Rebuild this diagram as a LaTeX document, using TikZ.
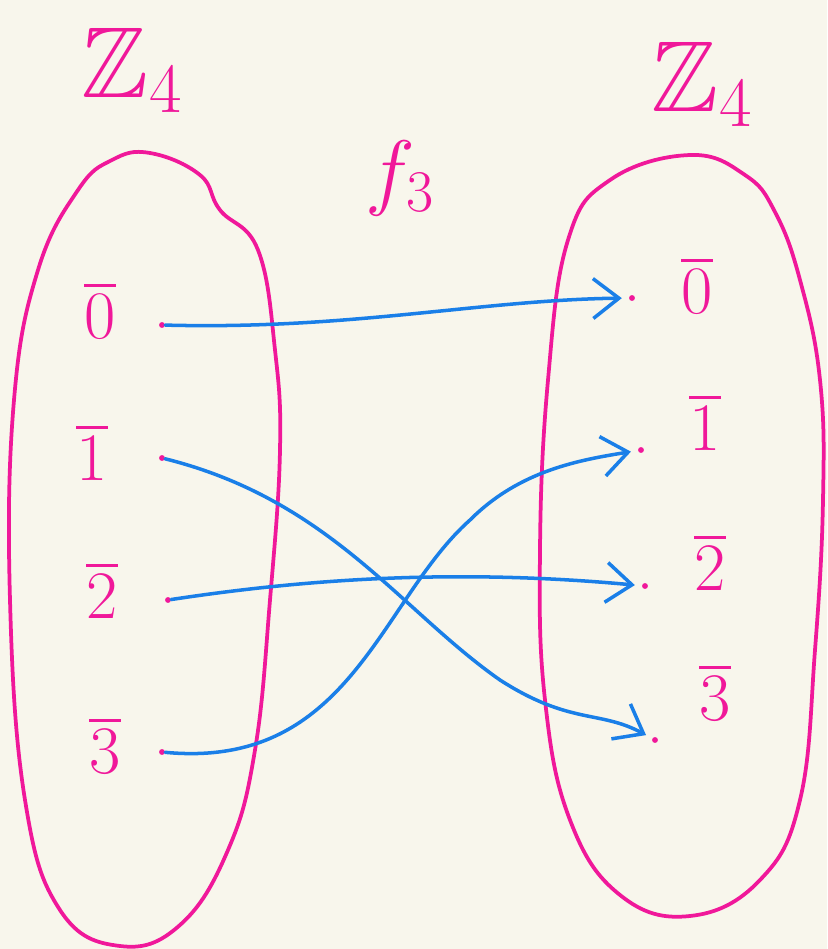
\RequirePackage{fix-cm}
\documentclass[tikz,border=0pt]{standalone}
\usepackage{amssymb}
\usetikzlibrary{arrows.meta}
\definecolor{bgc}{HTML}{F8F6EC}
\definecolor{pinkc}{HTML}{F0189A}
\definecolor{bluec}{HTML}{1A7FE8}
\tikzset{
  oval/.style={draw=pinkc, line width=3.2pt, line join=round},
  lab/.style={text=pinkc, inner sep=0pt, font=\fontsize{58}{58}\selectfont},
  bigl/.style={text=pinkc, inner sep=0pt, font=\fontsize{86}{86}\selectfont},
  fl/.style={text=pinkc, inner sep=0pt, font=\fontsize{72}{72}\selectfont},
  pt/.style={circle, fill=pinkc, inner sep=0pt, minimum size=5pt},
  arr/.style={draw=bluec, line width=3pt, line cap=round, -{Straight Barb[length=22pt,width=34pt,line width=3pt]}, shorten >=6pt}
}
\begin{document}
\begin{tikzpicture}[x=0.03cm,y=-0.03cm]
\fill[bgc] (0,0) rectangle (827,949);
\useasboundingbox (0,0) rectangle (827,949);
% ovals
\draw[oval] plot[smooth cycle, tension=0.7] coordinates {(150,153) (200,175) (220,210) (258,250) (275,350) (280,450) (270,600) (255,750) (228,850) (180,925) (120,946) (60,910) (25,800) (10,600) (14,400) (38,270) (78,190) (112,160)};
\draw[oval] plot[smooth cycle, tension=0.7] coordinates {(690,155) (745,175) (775,212) (800,280) (820,380) (823,500) (815,650) (800,800) (760,880) (690,916) (620,895) (570,820) (545,700) (540,550) (548,380) (568,240) (610,180)};
% titles
\node[bigl] (zl) at (132,70) {$\mathbb{Z}_4$};
\node[bigl] (zr) at (702,84) {$\mathbb{Z}_4$};
\node[fl] (f) at (400,178) {$f_3$};
% left elements
\node[lab] (a0) at (100,310) {$\overline{0}$};
\node[lab] (a1) at (92,452) {$\overline{1}$};
\node[lab] (a2) at (102,590) {$\overline{2}$};
\node[lab] (a3) at (105,745) {$\overline{3}$};
% right elements
\node[lab] (b0) at (697,285) {$\overline{0}$};
\node[lab] (b1) at (705,422) {$\overline{1}$};
\node[lab] (b2) at (710,562) {$\overline{2}$};
\node[lab] (b3) at (715,692) {$\overline{3}$};
% dots
\node[pt] (l0) at (162,325) {};
\node[pt] (l1) at (162,458) {};
\node[pt] (l2) at (168,600) {};
\node[pt] (l3) at (162,752) {};
\node[pt] (r0) at (632,298) {};
\node[pt] (r1) at (641,450) {};
\node[pt] (r2) at (645,586) {};
\node[pt] (r3) at (655,740) {};
% arrows
\draw[arr] (l0) .. controls (350,330) and (480,300) .. (r0);
\draw[arr] (l1) .. controls (330,500) and (400,610) .. (500,680) .. controls (570,725) and (600,710) .. (r3);
\draw[arr] (l2) .. controls (300,580) and (450,568) .. (r2);
\draw[arr] (l3) .. controls (350,770) and (380,600) .. (470,520) .. controls (520,470) and (580,460) .. (r1);
\end{tikzpicture}
\end{document}
